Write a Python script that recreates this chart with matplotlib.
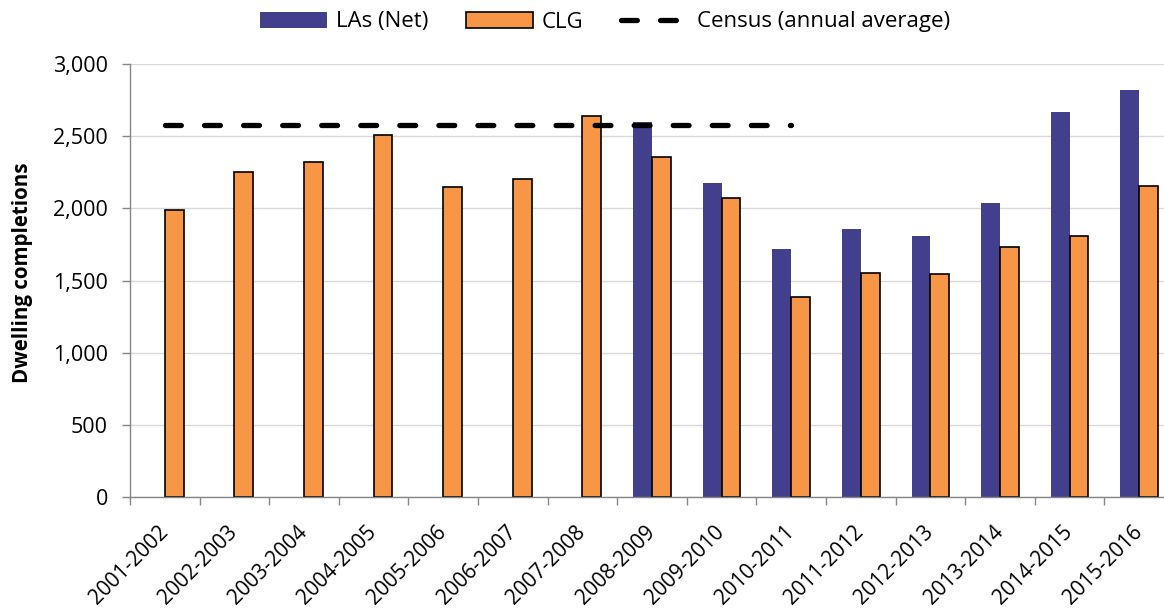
import numpy as np
import matplotlib
matplotlib.use("Agg")
import matplotlib.pyplot as plt
from matplotlib.ticker import FuncFormatter, FixedLocator

plt.rcParams['font.family'] = ['Open Sans', 'DejaVu Sans']

categories = ["2001-2002", "2002-2003", "2003-2004", "2004-2005", "2005-2006",
              "2006-2007", "2007-2008", "2008-2009", "2009-2010", "2010-2011",
              "2011-2012", "2012-2013", "2013-2014", "2014-2015", "2015-2016"]
las_net = [np.nan, np.nan, np.nan, np.nan, np.nan, np.nan, np.nan,
           2595, 2175, 1715, 1855, 1805, 2040, 2665, 2820]
clg = [1990, 2250, 2320, 2510, 2145, 2200, 2640, 2355, 2075, 1385,
       1555, 1545, 1730, 1805, 2155]
census_value = 2580
census_first, census_last = "2001-2002", "2010-2011"

LA_COLOR = "#423F8D"
CLG_COLOR = "#F79646"
GRID = "#D9D9D9"
AXIS = "#868686"

W, H = 1164, 612
fig = plt.figure(figsize=(W / 100, H / 100), dpi=100)
left = 130 / W
bottom = 1 - 497 / H
top = 1 - 64 / H
width = 15 * 69.6 / W
ax = fig.add_axes([left, bottom, width, top - bottom])

x = np.arange(len(categories))
bw = 0.27
las_arr = np.array(las_net, dtype=float)
mask = ~np.isnan(las_arr)
h_la = ax.bar(x[mask] - bw / 2, las_arr[mask], width=bw, color=LA_COLOR,
              label="LAs (Net)", zorder=2)
h_clg = ax.bar(x + bw / 2, clg, width=bw, color=CLG_COLOR, edgecolor="black",
               linewidth=1.2, label="CLG", zorder=2)

i0 = categories.index(census_first)
i1 = categories.index(census_last)
h_cen, = ax.plot([x[i0], x[i1]], [census_value, census_value], color="black",
                 linewidth=3.8, dashes=(3.0, 4.4), dash_capstyle="round",
                 label="Census (annual average)", zorder=3)

ax.set_xlim(-0.5, len(categories) - 0.5)
ax.set_ylim(0, 3000)
ax.set_yticks(np.arange(0, 3001, 500))
ax.yaxis.set_major_formatter(FuncFormatter(lambda v, p: f"{int(v):,}"))
ax.grid(axis="y", color=GRID, linewidth=1.0)
ax.set_axisbelow(True)

ax.set_xticks(x)
ax.set_xticklabels(categories, rotation=45, ha="right", va="center",
                   rotation_mode="anchor")
ax.xaxis.set_minor_locator(FixedLocator(np.arange(-0.5, len(categories), 1.0)))
ax.tick_params(axis="x", which="major", length=0, pad=23, labelsize=15)
ax.tick_params(axis="x", which="minor", length=5.5, color=AXIS, width=1.0)
ax.tick_params(axis="y", length=6, color=AXIS, width=1.0, pad=10, labelsize=15.5)

for s in ["top", "right"]:
    ax.spines[s].set_visible(False)
for s in ["left", "bottom"]:
    ax.spines[s].set_color(AXIS)
    ax.spines[s].set_linewidth(1.0)

ax.set_ylabel("Dwelling completions", fontsize=14.8, fontweight="bold")
ax.yaxis.set_label_coords(-0.093, 0.517)

fig.legend([h_la, h_clg, h_cen], ["LAs (Net)", "CLG", "Census (annual average)"],
           loc="center", bbox_to_anchor=(605 / W, 1 - 22 / H),
           ncol=3, frameon=False, fontsize=16, handlelength=3.0,
           handletextpad=0.4, columnspacing=1.7)

fig.savefig("out.png", dpi=100)
